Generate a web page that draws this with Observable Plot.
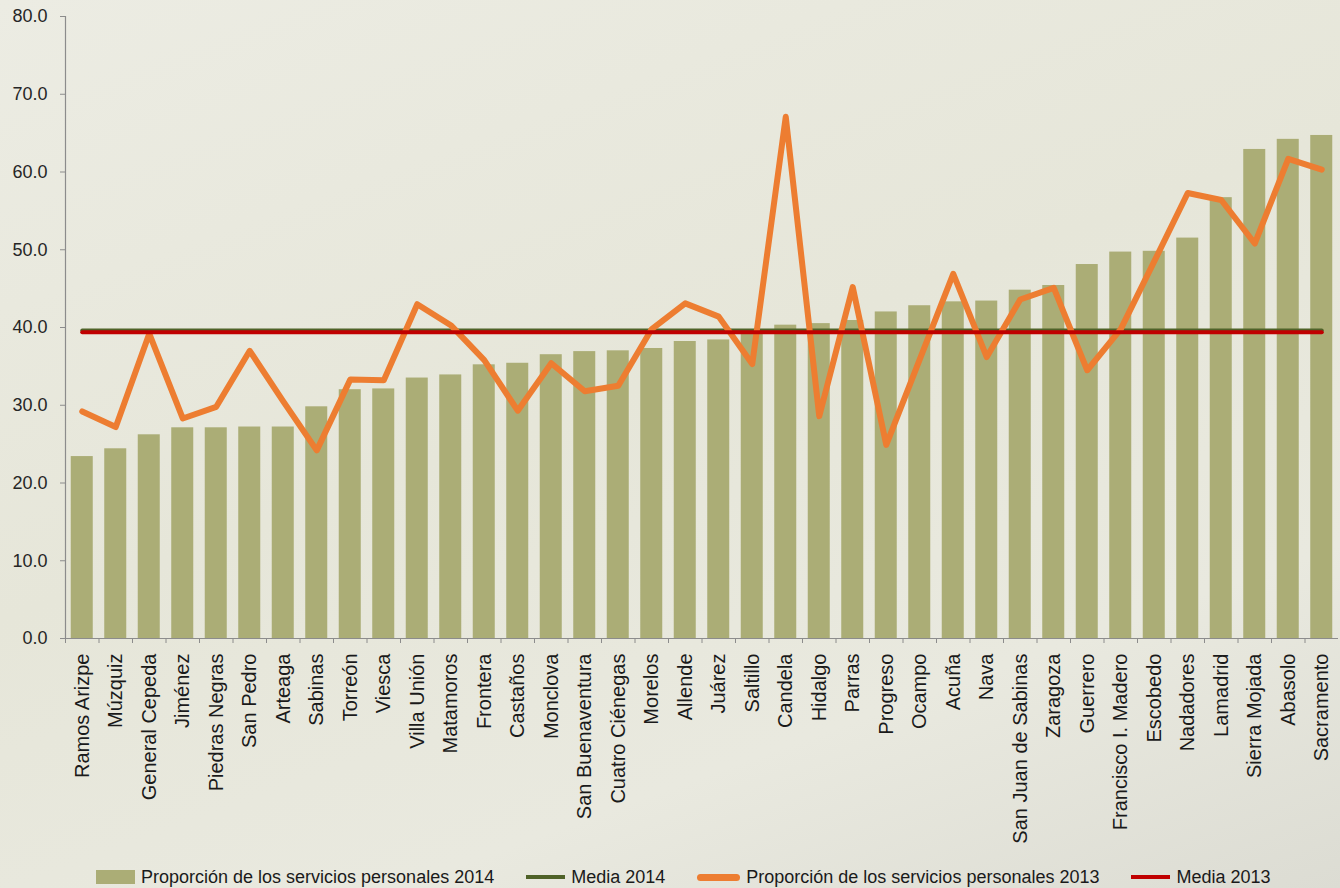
<!DOCTYPE html>
<html>
<head>
<meta charset="utf-8">
<script src="https://cdn.jsdelivr.net/npm/d3@7"></script>
<script src="https://cdn.jsdelivr.net/npm/@observablehq/plot@0.6"></script>
<style>
  html, body { margin: 0; padding: 0; }
  body {
    width: 1340px; height: 888px; overflow: hidden; position: relative;
    background: linear-gradient(160deg, #ecece3 0%, #e6e6d9 45%, #e9e9df 75%, #dcdcd3 100%);
    font-family: "Liberation Sans", Arial, sans-serif;
  }
  #chart { position: absolute; left: 0; top: 0; }
  #legend {
    position: absolute; left: 96px; top: 866px; height: 22px;
    display: flex; align-items: center; font-size: 18px; color: #1a1a1a; white-space: nowrap;
  }
  .item { display: flex; align-items: center; margin-right: 32px; }
  .sw { display: inline-block; margin-right: 6px; }
</style>
</head>
<body>
<div id="chart"></div>
<div id="legend"></div>
<script>
const categories = ["Ramos Arizpe","Múzquiz","General Cepeda","Jiménez","Piedras Negras","San Pedro","Arteaga","Sabinas","Torreón","Viesca","Villa Unión","Matamoros","Frontera","Castaños","Monclova","San Buenaventura","Cuatro Ciénegas","Morelos","Allende","Juárez","Saltillo","Candela","Hidalgo","Parras","Progreso","Ocampo","Acuña","Nava","San Juan de Sabinas","Zaragoza","Guerrero","Francisco I. Madero","Escobedo","Nadadores","Lamadrid","Sierra Mojada","Abasolo","Sacramento"];
const values2014 = [23.4,24.4,26.2,27.1,27.1,27.2,27.2,29.8,32.0,32.1,33.5,33.9,35.2,35.4,36.5,36.9,37.0,37.3,38.2,38.4,39.6,40.3,40.5,40.9,42.0,42.8,43.3,43.4,44.8,45.4,48.1,49.7,49.8,51.5,56.7,62.9,64.2,64.7];
const values2013 = [29.2,27.2,39.2,28.3,29.8,37.0,30.5,24.2,33.3,33.2,43.0,40.3,35.8,29.3,35.4,31.8,32.5,39.8,43.1,41.4,35.3,67.1,28.6,45.2,24.9,35.9,46.9,36.2,43.6,45.1,34.5,39.8,48.5,57.3,56.4,50.8,61.7,60.3];
const media2014 = 39.6;
const media2013 = 39.4;
const yTicks = [0,10,20,30,40,50,60,70,80];
const seriesNames = ["Proporción de los servicios personales 2014","Media 2014","Proporción de los servicios personales 2013","Media 2013"];
const colors = ["#abad76","#4f6228","#ed7d31","#c00000"];

const data = categories.map((c, i) => ({name: c, v2014: values2014[i], v2013: values2013[i], m2014: media2014, m2013: media2013}));

const W = 1340, H = 850, mL = 65, mR = 2, mT = 16, mB = 212;
const step = (W - mL - mR) / categories.length;

const chart = Plot.plot({
  width: W, height: H,
  marginLeft: mL, marginRight: mR, marginTop: mT, marginBottom: mB,
  style: {background: "transparent", fontFamily: "'Liberation Sans', Arial, sans-serif", fontSize: "18px", color: "#262626"},
  x: {type: "band", domain: categories, padding: 0, round: false, label: null},
  y: {domain: [0, 80], label: null},
  marks: [
    Plot.barY(data, {x: "name", y: "v2014", fill: colors[0], insetLeft: 5.75, insetRight: 5.75}),
    Plot.line(data, {x: "name", y: "m2014", stroke: colors[1], strokeWidth: 4}),
    Plot.line(data, {x: "name", y: "v2013", stroke: colors[2], strokeWidth: 6, strokeLinejoin: "round", strokeLinecap: "round"}),
    Plot.line(data, {x: "name", y: "m2013", stroke: colors[3], strokeWidth: 4}),
    Plot.ruleY([0], {stroke: "#8c8c8c", strokeWidth: 1.2}),
    Plot.frame({anchor: "left", stroke: "#8c8c8c", strokeWidth: 1.2}),
    Plot.axisY({ticks: yTicks, tickFormat: d3.format(".1f"), tickSize: 5, tickPadding: 13, fontSize: 18, stroke: "#8c8c8c", fill: "#262626", label: null}),
    Plot.axisX({tickSize: 5, tickFormat: () => "", dx: -step / 2, stroke: "#8c8c8c", label: null}),
    Plot.axisX({tickSize: 0, tickPadding: 15, tickRotate: -90, fontSize: 20, fill: "#1a1a1a", label: null})
  ]
});
document.getElementById("chart").appendChild(chart);

// legend
const legend = document.getElementById("legend");
const swatches = [
  {w: 39, h: 14, r: 0},
  {w: 39, h: 4, r: 0},
  {w: 43, h: 7, r: 4},
  {w: 39, h: 4, r: 0}
];
seriesNames.forEach((name, i) => {
  const item = document.createElement("span");
  item.className = "item";
  const sw = document.createElement("span");
  sw.className = "sw";
  sw.style.width = swatches[i].w + "px";
  sw.style.height = swatches[i].h + "px";
  sw.style.borderRadius = swatches[i].r + "px";
  sw.style.background = colors[i];
  item.appendChild(sw);
  const t = document.createElement("span");
  t.textContent = name;
  item.appendChild(t);
  legend.appendChild(item);
});
</script>
</body>
</html>
